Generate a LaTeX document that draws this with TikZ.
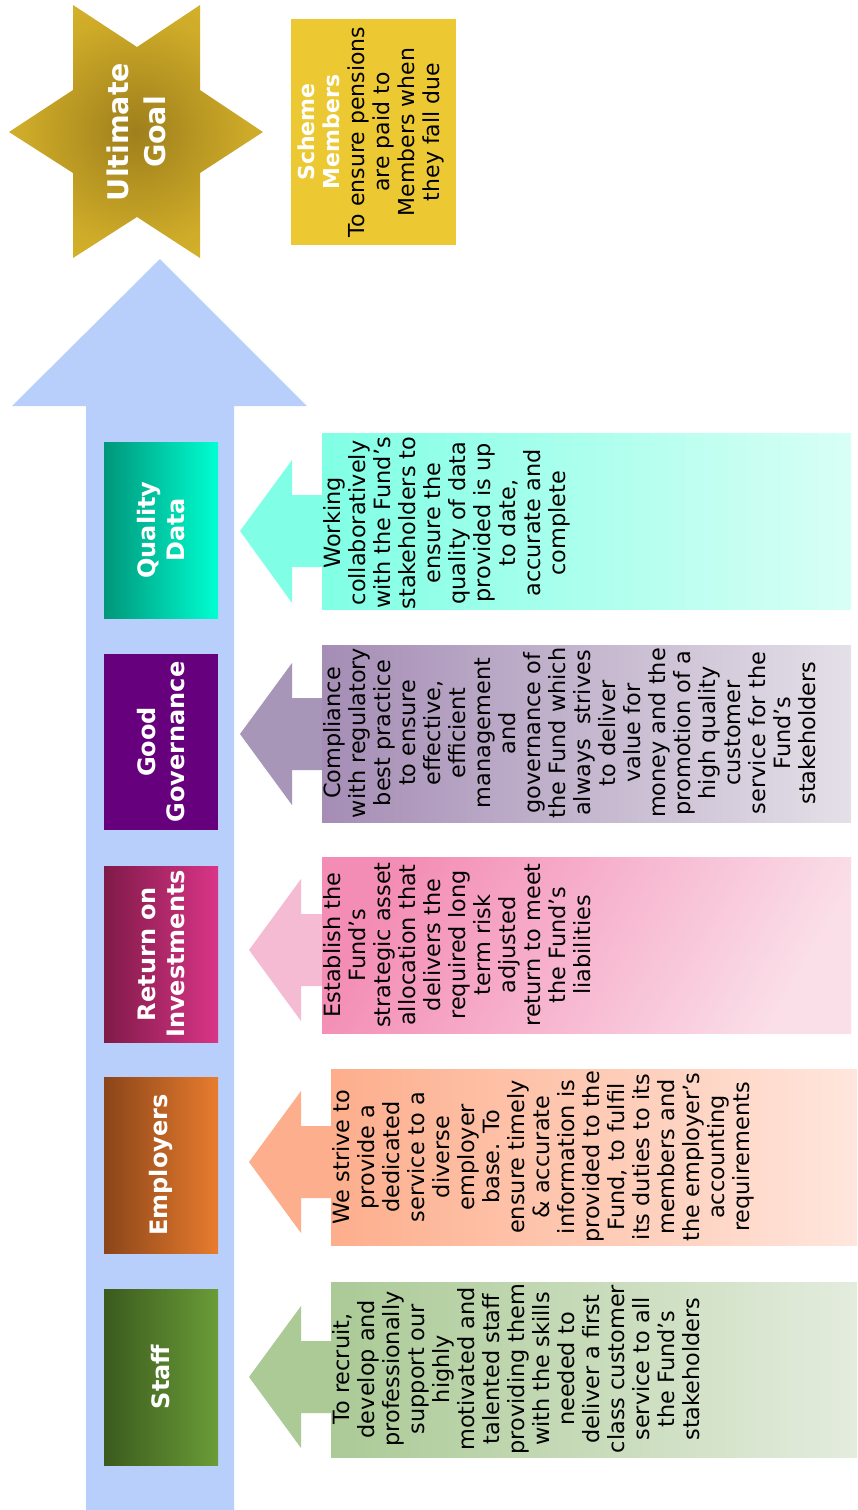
\documentclass[tikz,border=0pt]{standalone}
\usepackage{fontspec}
\setmainfont{DejaVu Sans}
\definecolor{bigarrow}{RGB}{184,207,251}
\definecolor{stardark}{RGB}{158,127,28}
\definecolor{starmid}{RGB}{205,170,40}
\definecolor{starlight}{RGB}{234,200,50}
\definecolor{schemegold}{RGB}{236,200,50}
\definecolor{qdL}{RGB}{0,150,122}
\definecolor{qdR}{RGB}{0,255,210}
\definecolor{qdArrow}{RGB}{128,255,230}
\definecolor{qdBoxL}{RGB}{128,255,229}
\definecolor{qdBoxR}{RGB}{216,255,245}
\definecolor{ggLab}{RGB}{102,0,124}
\definecolor{ggArrow}{RGB}{168,150,185}
\definecolor{ggBoxL}{RGB}{165,141,181}
\definecolor{ggBoxR}{RGB}{228,224,232}
\definecolor{riL}{RGB}{127,26,72}
\definecolor{riR}{RGB}{218,53,135}
\definecolor{riArrow}{RGB}{244,187,210}
\definecolor{riBoxL}{RGB}{244,141,181}
\definecolor{riBoxR}{RGB}{250,222,232}
\definecolor{emL}{RGB}{139,69,25}
\definecolor{emR}{RGB}{232,124,46}
\definecolor{emArrow}{RGB}{253,174,140}
\definecolor{emBoxL}{RGB}{253,174,140}
\definecolor{emBoxR}{RGB}{255,230,221}
\definecolor{stL}{RGB}{59,90,30}
\definecolor{stR}{RGB}{106,156,55}
\definecolor{stArrow}{RGB}{171,202,150}
\definecolor{stBoxL}{RGB}{171,202,150}
\definecolor{stBoxR}{RGB}{228,236,222}
\pgfdeclareradialshading{starshade}{\pgfpoint{0bp}{0bp}}{color(0bp)=(stardark); color(22bp)=(starmid); color(46bp)=(starlight); color(50bp)=(starlight)}
\begin{document}
\begin{tikzpicture}[x=1pt,y=-1pt,
  desctext/.style={rotate=90, anchor=north, align=center, inner sep=1pt, text=black,
    font=\fontsize{22.4}{25}\selectfont},
  labeltext/.style={rotate=90, align=center, inner sep=0pt, text=white,
    font=\fontsize{24}{29}\selectfont\bfseries},
  goaltext/.style={rotate=90, align=center, inner sep=0pt, text=white,
    font=\fontsize{28.5}{37}\selectfont\bfseries},
  schemetext/.style={rotate=90, align=center, inner sep=0pt, text=black,
    font=\fontsize{22}{25}\selectfont}]
\useasboundingbox (0,0) rectangle (857,1510);
\fill[white] (0,0) rectangle (857,1510);

% big upward arrow
\fill[bigarrow] (160,259) -- (307,406) -- (234,406) -- (234,1510) -- (86,1510) -- (86,406) -- (12,406) -- cycle;

% star
\shade[shading=starshade] (9,132) -- (73,90) -- (73,5) -- (137,47) -- (200,5) -- (200,90)
  -- (263,132) -- (200,173) -- (200,258) -- (137,217) -- (73,258) -- (73,173) -- cycle;
\node[goaltext] (goal) at (136,132) {Ultimate\\Goal};

% scheme members box
\fill[schemegold] (291,19) rectangle (456,245);
\node[schemetext] (scheme) at (371,132) {\textcolor{white}{\bfseries Scheme}\\
  \textcolor{white}{\bfseries Members}\\ To ensure pensions\\ are paid to\\ Members when\\ they fall due};

% ---------- Quality Data ----------
\fill[qdArrow] (240,531) -- (292,460) -- (292,495) -- (330,495) -- (330,567) -- (292,567) -- (292,603) -- cycle;
\shade[left color=qdBoxL, right color=qdBoxR] (322,433) rectangle (851,609);
\shade[left color=qdL, right color=qdR] (104,442) rectangle (218,618);
\node[labeltext] (qdlab) at (161,530) {Quality\\Data};
\node[desctext] (qddesc) at (322,523) {Working\\ collaboratively\\ with the Fund’s\\ stakeholders to\\ ensure the\\ quality of data\\ provided is up\\ to date,\\ accurate and\\ complete};

% ---------- Good Governance ----------
\fill[ggArrow] (240,734) -- (292,663) -- (292,698) -- (330,698) -- (330,770) -- (292,770) -- (292,805) -- cycle;
\shade[left color=ggBoxL, right color=ggBoxR] (322,645) rectangle (851,822);
\fill[ggLab] (104,654) rectangle (218,830);
\node[labeltext] (gglab) at (161,742) {Good\\Governance};
\node[desctext] (ggdesc) at (322,733) {Compliance\\ with regulatory\\ best practice\\ to ensure\\ effective,\\ efficient\\ management\\ and\\ governance of\\ the Fund which\\ always\ \ strives\\ to deliver\\ value for\\ money and the\\ promotion of a\\ high quality\\ customer\\ service for the\\ Fund’s\\ stakeholders};

% ---------- Return on Investments ----------
\fill[riArrow] (249,950) -- (301,879) -- (301,914) -- (340,914) -- (340,986) -- (301,986) -- (301,1021) -- cycle;
\shade[left color=riBoxL, right color=riBoxR, shading angle=60] (322,857) rectangle (851,1033);
\shade[left color=riL, right color=riR] (104,866) rectangle (218,1042);
\node[labeltext] (rilab) at (161,954) {Return on\\Investments};
\node[desctext] (ridesc) at (322,945) {Establish the\\ Fund’s\\ strategic asset\\ allocation that\\ delivers the\\ required long\\ term risk\\ adjusted\\ return to meet\\ the Fund’s\\ liabilities};

% ---------- Employers ----------
\fill[emArrow] (249,1162) -- (301,1091) -- (301,1126) -- (340,1126) -- (340,1198) -- (301,1198) -- (301,1233) -- cycle;
\shade[left color=emBoxL, right color=emBoxR] (331,1069) rectangle (857,1245);
\shade[left color=emL, right color=emR] (104,1077) rectangle (218,1253);
\node[labeltext] (emlab) at (161,1165) {Employers};
\node[desctext] (emdesc) at (331,1157) {We strive to\\ provide a\\ dedicated\\ service to a\\ diverse\\ employer\\ base. To\\ ensure timely\\ \& accurate\\ information is\\ provided to the\\ Fund, to fulfil\\ its duties to its\\ members and\\ the employer’s\\ accounting\\ requirements};

% ---------- Staff ----------
\fill[stArrow] (249,1377) -- (301,1306) -- (301,1341) -- (340,1341) -- (340,1413) -- (301,1413) -- (301,1448) -- cycle;
\shade[left color=stBoxL, right color=stBoxR] (331,1282) rectangle (857,1457);
\shade[left color=stL, right color=stR] (104,1289) rectangle (218,1465);
\node[labeltext] (stlab) at (161,1377) {Staff};
\node[desctext] (stdesc) at (331,1369) {To recruit,\\ develop and\\ professionally\\ support our\\ highly\\ motivated and\\ talented staff\\ providing them\\ with the skills\\ needed to\\ deliver a first\\ class customer\\ service to all\\ the Fund’s\\ stakeholders};
\end{tikzpicture}
\end{document}
